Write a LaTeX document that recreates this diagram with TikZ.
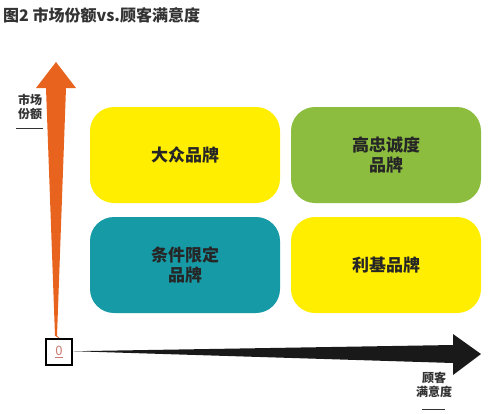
\documentclass[tikz,border=0pt]{standalone}
\usepackage{fontspec}
\setmainfont{Noto Sans CJK SC}
\begin{document}
\begin{tikzpicture}[x=1pt,y=-1pt,
  quad/.style={rounded corners=24pt,minimum width=190pt,minimum height=96pt,inner sep=0pt,align=center,text=black!85,font=\fontsize{17}{20}\selectfont\bfseries},
  axlabel/.style={align=center,inner sep=0pt,text=black!80,font=\fontsize{12}{14}\selectfont\bfseries}]
\definecolor{qyellow}{HTML}{FFEE00}
\definecolor{qgreen}{HTML}{8CBD3F}
\definecolor{qteal}{HTML}{169AA6}
\definecolor{qorange}{HTML}{E8641E}
\definecolor{zeroc}{HTML}{C87A70}
\useasboundingbox (0,0) rectangle (500,413);
\fill[white] (0,0) rectangle (500,413);
% title
\node[anchor=west,inner sep=0pt,text=black!80,font=\fontsize{16}{18}\selectfont\bfseries] (title) at (3,15) {图2 市场份额vs.顾客满意度};
% quadrants
\node[quad,fill=qyellow] (q1) at (185,155) {\raisebox{-5pt}{大众品牌}};
\node[quad,fill=qgreen] (q2) at (386,155) {高忠诚度\\品牌};
\node[quad,fill=qteal] (q3) at (185,265) {条件限定\\品牌};
\node[quad,fill=qyellow] (q4) at (386,265) {利基品牌};
% origin box
\node[draw=black,line width=2.8pt,minimum size=26pt,inner sep=0pt,text=zeroc,font=\fontsize{13}{14}\selectfont] (o) at (59,352) {\underline{0}};
% orange arrow (vertical)
\coordinate (vtip) at (56,62);
\fill[qorange] (vtip) -- (76,88) -- (66,88) -- (57,336) -- (55,336) -- (46,88) -- (36,88) -- cycle;
\draw[qorange,line width=0.8pt] (56,336) -- (o.north);
% black arrow (horizontal)
\coordinate (htip) at (481,354);
\fill[black!90] (o.east) ++(1,-0.8) -- (453,345) -- (453,334) -- (htip) -- (453,375) -- (453,363) -- ([yshift=0.8pt]o.east) -- cycle;
% axis labels
\node[axlabel] (ylab) at (30,107) {市场\\份额};
\draw[black!80,line width=0.6pt] (16,128) -- (43,128);
\node[axlabel] (xlab) at (434,385) {顾客\\满意度};
\draw[black!80,line width=0.6pt] (422,409) -- (445,409);
\end{tikzpicture}
\end{document}
